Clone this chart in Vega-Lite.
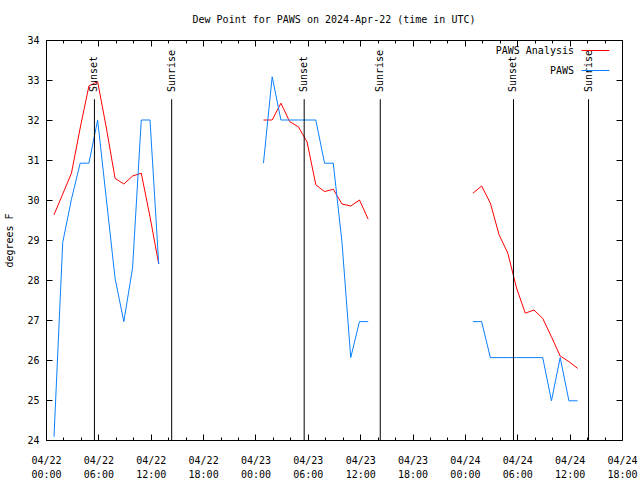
{
  "$schema": "https://vega.github.io/schema/vega-lite/v6.json",
  "width": 576,
  "height": 400,
  "autosize": {"type": "none"},
  "padding": {"left": 46, "top": 40, "right": 18, "bottom": 40},
  "background": "white",
  "title": {"text": "Dew Point for PAWS on 2024-Apr-22 (time in UTC)", "font": "DejaVu Sans Mono", "fontSize": 10, "fontWeight": "normal", "color": "black", "anchor": "middle", "offset": 10},
  "config": {
    "view": {"stroke": "black", "strokeWidth": 1},
    "font": "DejaVu Sans Mono",
    "axis": {"labelColor": "black", "tickColor": "black", "titleColor": "black", "labelFont": "DejaVu Sans Mono", "titleFont": "DejaVu Sans Mono", "labelFontSize": 10, "titleFontSize": 10, "titleFontWeight": "normal", "grid": false, "domain": false, "tickWidth": 1}
  },
  "datasets": {
    "obs": [
      {"t": "2024-04-22T00:55:00Z", "v": 29.63, "s": "PAWS Analysis", "d": 1},
      {"t": "2024-04-22T01:55:00Z", "v": 30.15, "s": "PAWS Analysis", "d": 1},
      {"t": "2024-04-22T02:55:00Z", "v": 30.67, "s": "PAWS Analysis", "d": 1},
      {"t": "2024-04-22T03:55:00Z", "v": 31.8, "s": "PAWS Analysis", "d": 1},
      {"t": "2024-04-22T04:55:00Z", "v": 32.85, "s": "PAWS Analysis", "d": 1},
      {"t": "2024-04-22T05:55:00Z", "v": 32.96, "s": "PAWS Analysis", "d": 1},
      {"t": "2024-04-22T06:55:00Z", "v": 31.8, "s": "PAWS Analysis", "d": 1},
      {"t": "2024-04-22T07:55:00Z", "v": 30.54, "s": "PAWS Analysis", "d": 1},
      {"t": "2024-04-22T08:55:00Z", "v": 30.4, "s": "PAWS Analysis", "d": 1},
      {"t": "2024-04-22T09:55:00Z", "v": 30.6, "s": "PAWS Analysis", "d": 1},
      {"t": "2024-04-22T10:55:00Z", "v": 30.67, "s": "PAWS Analysis", "d": 1},
      {"t": "2024-04-22T11:55:00Z", "v": 29.58, "s": "PAWS Analysis", "d": 1},
      {"t": "2024-04-22T12:55:00Z", "v": 28.4, "s": "PAWS Analysis", "d": 1},
      {"t": "2024-04-23T00:55:00Z", "v": 32.0, "s": "PAWS Analysis", "d": 2},
      {"t": "2024-04-23T01:55:00Z", "v": 32.0, "s": "PAWS Analysis", "d": 2},
      {"t": "2024-04-23T02:55:00Z", "v": 32.42, "s": "PAWS Analysis", "d": 2},
      {"t": "2024-04-23T03:55:00Z", "v": 31.96, "s": "PAWS Analysis", "d": 2},
      {"t": "2024-04-23T04:55:00Z", "v": 31.83, "s": "PAWS Analysis", "d": 2},
      {"t": "2024-04-23T05:55:00Z", "v": 31.45, "s": "PAWS Analysis", "d": 2},
      {"t": "2024-04-23T06:55:00Z", "v": 30.38, "s": "PAWS Analysis", "d": 2},
      {"t": "2024-04-23T07:55:00Z", "v": 30.21, "s": "PAWS Analysis", "d": 2},
      {"t": "2024-04-23T08:55:00Z", "v": 30.27, "s": "PAWS Analysis", "d": 2},
      {"t": "2024-04-23T09:55:00Z", "v": 29.9, "s": "PAWS Analysis", "d": 2},
      {"t": "2024-04-23T10:55:00Z", "v": 29.85, "s": "PAWS Analysis", "d": 2},
      {"t": "2024-04-23T11:55:00Z", "v": 30.0, "s": "PAWS Analysis", "d": 2},
      {"t": "2024-04-23T12:55:00Z", "v": 29.52, "s": "PAWS Analysis", "d": 2},
      {"t": "2024-04-24T00:55:00Z", "v": 30.17, "s": "PAWS Analysis", "d": 3},
      {"t": "2024-04-24T01:55:00Z", "v": 30.35, "s": "PAWS Analysis", "d": 3},
      {"t": "2024-04-24T02:55:00Z", "v": 29.92, "s": "PAWS Analysis", "d": 3},
      {"t": "2024-04-24T03:55:00Z", "v": 29.13, "s": "PAWS Analysis", "d": 3},
      {"t": "2024-04-24T04:55:00Z", "v": 28.67, "s": "PAWS Analysis", "d": 3},
      {"t": "2024-04-24T05:55:00Z", "v": 27.8, "s": "PAWS Analysis", "d": 3},
      {"t": "2024-04-24T06:55:00Z", "v": 27.17, "s": "PAWS Analysis", "d": 3},
      {"t": "2024-04-24T07:55:00Z", "v": 27.25, "s": "PAWS Analysis", "d": 3},
      {"t": "2024-04-24T08:55:00Z", "v": 27.04, "s": "PAWS Analysis", "d": 3},
      {"t": "2024-04-24T09:55:00Z", "v": 26.58, "s": "PAWS Analysis", "d": 3},
      {"t": "2024-04-24T10:55:00Z", "v": 26.1, "s": "PAWS Analysis", "d": 3},
      {"t": "2024-04-24T11:55:00Z", "v": 25.96, "s": "PAWS Analysis", "d": 3},
      {"t": "2024-04-24T12:55:00Z", "v": 25.79, "s": "PAWS Analysis", "d": 3},
      {"t": "2024-04-22T00:55:00Z", "v": 24.08, "s": "PAWS", "d": 1},
      {"t": "2024-04-22T01:55:00Z", "v": 28.94, "s": "PAWS", "d": 1},
      {"t": "2024-04-22T02:55:00Z", "v": 30.02, "s": "PAWS", "d": 1},
      {"t": "2024-04-22T03:55:00Z", "v": 30.92, "s": "PAWS", "d": 1},
      {"t": "2024-04-22T04:55:00Z", "v": 30.92, "s": "PAWS", "d": 1},
      {"t": "2024-04-22T05:55:00Z", "v": 32.0, "s": "PAWS", "d": 1},
      {"t": "2024-04-22T06:55:00Z", "v": 30.02, "s": "PAWS", "d": 1},
      {"t": "2024-04-22T07:55:00Z", "v": 28.04, "s": "PAWS", "d": 1},
      {"t": "2024-04-22T08:55:00Z", "v": 26.96, "s": "PAWS", "d": 1},
      {"t": "2024-04-22T09:55:00Z", "v": 28.3, "s": "PAWS", "d": 1},
      {"t": "2024-04-22T10:55:00Z", "v": 32.0, "s": "PAWS", "d": 1},
      {"t": "2024-04-22T11:55:00Z", "v": 32.0, "s": "PAWS", "d": 1},
      {"t": "2024-04-22T12:55:00Z", "v": 28.4, "s": "PAWS", "d": 1},
      {"t": "2024-04-23T00:55:00Z", "v": 30.92, "s": "PAWS", "d": 2},
      {"t": "2024-04-23T01:55:00Z", "v": 33.08, "s": "PAWS", "d": 2},
      {"t": "2024-04-23T02:55:00Z", "v": 32.0, "s": "PAWS", "d": 2},
      {"t": "2024-04-23T03:55:00Z", "v": 32.0, "s": "PAWS", "d": 2},
      {"t": "2024-04-23T04:55:00Z", "v": 32.0, "s": "PAWS", "d": 2},
      {"t": "2024-04-23T05:55:00Z", "v": 32.0, "s": "PAWS", "d": 2},
      {"t": "2024-04-23T06:55:00Z", "v": 32.0, "s": "PAWS", "d": 2},
      {"t": "2024-04-23T07:55:00Z", "v": 30.92, "s": "PAWS", "d": 2},
      {"t": "2024-04-23T08:55:00Z", "v": 30.92, "s": "PAWS", "d": 2},
      {"t": "2024-04-23T09:55:00Z", "v": 28.94, "s": "PAWS", "d": 2},
      {"t": "2024-04-23T10:55:00Z", "v": 26.06, "s": "PAWS", "d": 2},
      {"t": "2024-04-23T11:55:00Z", "v": 26.96, "s": "PAWS", "d": 2},
      {"t": "2024-04-23T12:55:00Z", "v": 26.96, "s": "PAWS", "d": 2},
      {"t": "2024-04-24T00:55:00Z", "v": 26.96, "s": "PAWS", "d": 3},
      {"t": "2024-04-24T01:55:00Z", "v": 26.96, "s": "PAWS", "d": 3},
      {"t": "2024-04-24T02:55:00Z", "v": 26.06, "s": "PAWS", "d": 3},
      {"t": "2024-04-24T03:55:00Z", "v": 26.06, "s": "PAWS", "d": 3},
      {"t": "2024-04-24T04:55:00Z", "v": 26.06, "s": "PAWS", "d": 3},
      {"t": "2024-04-24T05:55:00Z", "v": 26.06, "s": "PAWS", "d": 3},
      {"t": "2024-04-24T06:55:00Z", "v": 26.06, "s": "PAWS", "d": 3},
      {"t": "2024-04-24T07:55:00Z", "v": 26.06, "s": "PAWS", "d": 3},
      {"t": "2024-04-24T08:55:00Z", "v": 26.06, "s": "PAWS", "d": 3},
      {"t": "2024-04-24T09:55:00Z", "v": 24.98, "s": "PAWS", "d": 3},
      {"t": "2024-04-24T10:55:00Z", "v": 26.06, "s": "PAWS", "d": 3},
      {"t": "2024-04-24T11:55:00Z", "v": 24.98, "s": "PAWS", "d": 3},
      {"t": "2024-04-24T12:55:00Z", "v": 24.98, "s": "PAWS", "d": 3}
    ],
    "events": [
      {"t": "2024-04-22T05:33:00Z", "label": "Sunset"},
      {"t": "2024-04-22T14:24:00Z", "label": "Sunrise"},
      {"t": "2024-04-23T05:35:00Z", "label": "Sunset"},
      {"t": "2024-04-23T14:18:00Z", "label": "Sunrise"},
      {"t": "2024-04-24T05:34:00Z", "label": "Sunset"},
      {"t": "2024-04-24T14:10:00Z", "label": "Sunrise"}
    ]
  },
  "layer": [
    {
      "data": {"name": "obs"},
      "mark": {"type": "line", "strokeWidth": 1},
      "encoding": {
        "x": {
          "field": "t", "type": "temporal",
          "scale": {"type": "utc", "domain": [1713744000000, 1713981600000]},
          "axis": {
            "orient": "bottom", "title": null,
            "values": [1713744000000, 1713751200000, 1713758400000, 1713765600000, 1713772800000, 1713780000000, 1713787200000, 1713794400000, 1713801600000, 1713808800000, 1713816000000, 1713823200000, 1713830400000, 1713837600000, 1713844800000, 1713852000000, 1713859200000, 1713866400000, 1713873600000, 1713880800000, 1713888000000, 1713895200000, 1713902400000, 1713909600000, 1713916800000, 1713924000000, 1713931200000, 1713938400000, 1713945600000, 1713952800000, 1713960000000, 1713967200000, 1713974400000, 1713981600000],
            "tickSize": {"condition": {"test": "utchours(datum.value) % 6 === 0", "value": -6}, "value": -3},
            "labelExpr": "utchours(datum.value) % 6 === 0 ? [utcFormat(datum.value, '%m/%d'), utcFormat(datum.value, '%H:%M')] : ''",
            "labelFlush": false, "labelOverlap": false, "labelBound": false,
            "labelPadding": 21, "labelLineHeight": 14.5, "labelBaseline": "top"
          }
        },
        "y": {
          "field": "v", "type": "quantitative",
          "scale": {"domain": [24, 34], "nice": false, "zero": false},
          "axis": {"orient": "left", "values": [24, 25, 26, 27, 28, 29, 30, 31, 32, 33, 34], "tickSize": -6, "labelPadding": 13, "title": "degrees F", "titlePadding": 12}
        },
        "color": {
          "field": "s", "type": "nominal",
          "scale": {"domain": ["PAWS Analysis", "PAWS"], "range": ["#ff0000", "#0a80ff"]},
          "legend": {
            "title": null, "orient": "none", "legendX": 535, "legendY": -4,
            "symbolType": "stroke", "symbolSize": 784, "symbolStrokeWidth": 1,
            "labelAlign": "right", "labelOffset": -36, "labelFont": "DejaVu Sans Mono", "labelFontSize": 10, "labelColor": "black",
            "rowPadding": -23, "padding": 0
          }
        },
        "detail": {"field": "d", "type": "nominal"}
      }
    },
    {
      "data": {"name": "events"},
      "mark": {"type": "rule", "color": "black", "strokeWidth": 1},
      "encoding": {
        "x": {
          "field": "t", "type": "temporal",
          "axis": {
            "orient": "top", "title": null, "labels": false,
            "values": [1713744000000, 1713751200000, 1713758400000, 1713765600000, 1713772800000, 1713780000000, 1713787200000, 1713794400000, 1713801600000, 1713808800000, 1713816000000, 1713823200000, 1713830400000, 1713837600000, 1713844800000, 1713852000000, 1713859200000, 1713866400000, 1713873600000, 1713880800000, 1713888000000, 1713895200000, 1713902400000, 1713909600000, 1713916800000, 1713924000000, 1713931200000, 1713938400000, 1713945600000, 1713952800000, 1713960000000, 1713967200000, 1713974400000, 1713981600000],
            "tickSize": {"condition": {"test": "utchours(datum.value) % 6 === 0", "value": -6}, "value": -3}
          }
        },
        "y": {"datum": 32.52, "type": "quantitative", "axis": {"orient": "right", "values": [24, 25, 26, 27, 28, 29, 30, 31, 32, 33, 34], "tickSize": -6, "labels": false, "title": null}},
        "y2": {"datum": 24}
      }
    },
    {
      "data": {"name": "events"},
      "mark": {"type": "text", "angle": 270, "align": "left", "baseline": "middle", "font": "DejaVu Sans Mono", "fontSize": 10, "color": "black"},
      "encoding": {
        "x": {"field": "t", "type": "temporal", "axis": null},
        "y": {"datum": 32.7, "type": "quantitative", "axis": null},
        "text": {"field": "label"}
      }
    }
  ],
  "resolve": {"axis": {"x": "independent", "y": "independent"}}
}
